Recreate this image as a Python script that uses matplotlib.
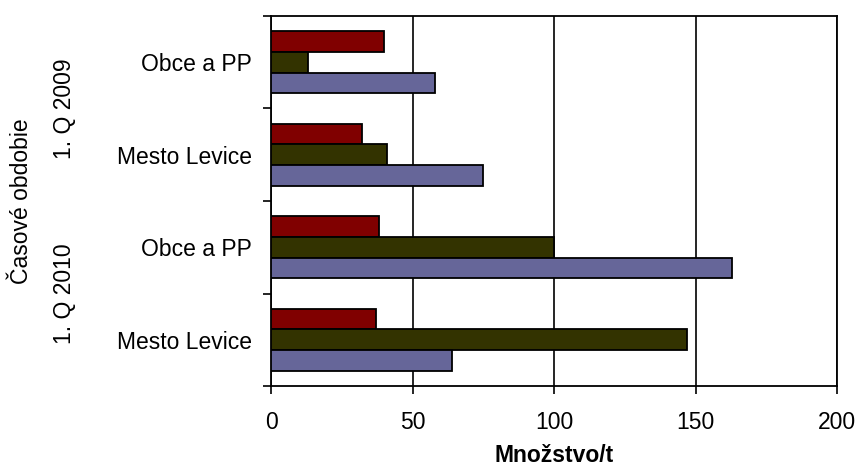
import numpy as np
import matplotlib
matplotlib.use('Agg')
import matplotlib.pyplot as plt
import matplotlib.transforms as mtransforms

plt.rcParams['font.family'] = ['Liberation Sans', 'DejaVu Sans']

# categories listed top to bottom
kategorie = ['Obce a PP', 'Mesto Levice', 'Obce a PP', 'Mesto Levice']
obdobia = ['1. Q 2009', '1. Q 2010']
seria_1 = [40, 32, 38, 37]     # red
seria_2 = [13, 41, 100, 147]   # olive
seria_3 = [58, 75, 163, 64]    # blue
farby = ['#800000', '#333300', '#666699']

x_ticks = [0, 50, 100, 150, 200]

W, H = 857, 470
fs = 16.5
fig = plt.figure(figsize=(W / 100, H / 100), dpi=100)
ax = fig.add_axes([271 / W, 1 - 386 / H, 566 / W, 370 / H])

n = len(kategorie)
stredy = np.arange(n)[::-1] + 0.5
vyska = 0.225
for i, (vals, c) in enumerate(zip([seria_1, seria_2, seria_3], farby)):
    ax.barh(stredy + (1 - i) * vyska, vals, height=vyska, color=c,
            edgecolor='black', linewidth=1.3, zorder=3)

ax.set_xlim(0, 200)
ax.set_ylim(0, n)
ax.set_xticks(x_ticks)
ax.tick_params(axis='x', direction='out', length=6, width=1.2, pad=12,
               labelsize=fs)
ax.xaxis.grid(True, color='black', linewidth=1.2, zorder=0)
ax.set_axisbelow(True)

# boundaries between categories as major ticks, names as minor ticks
ax.set_yticks(np.arange(n + 1))
ax.set_yticklabels([])
ax.tick_params(axis='y', which='major', direction='out', length=6, width=1.2)
ax.set_yticks(stredy, minor=True)
ax.set_yticklabels(kategorie, minor=True)
ax.tick_params(axis='y', which='minor', length=0, pad=14, labelsize=fs)

for s in ax.spines.values():
    s.set_linewidth(1.3)

ax.set_xlabel('Množstvo/t', fontsize=fs, fontweight='bold', labelpad=7)

trans = mtransforms.blended_transform_factory(fig.transFigure, ax.transData)
for j, obd in enumerate(obdobia):
    ax.text(65 / W, n - 1 - 2 * j, obd, transform=trans, rotation=90,
            ha='center', va='center', fontsize=fs)
fig.text(22 / W, 1 - 201 / H, 'Časové obdobie', rotation=90,
         ha='center', va='center', fontsize=fs)

fig.savefig('out.png', dpi=100)
